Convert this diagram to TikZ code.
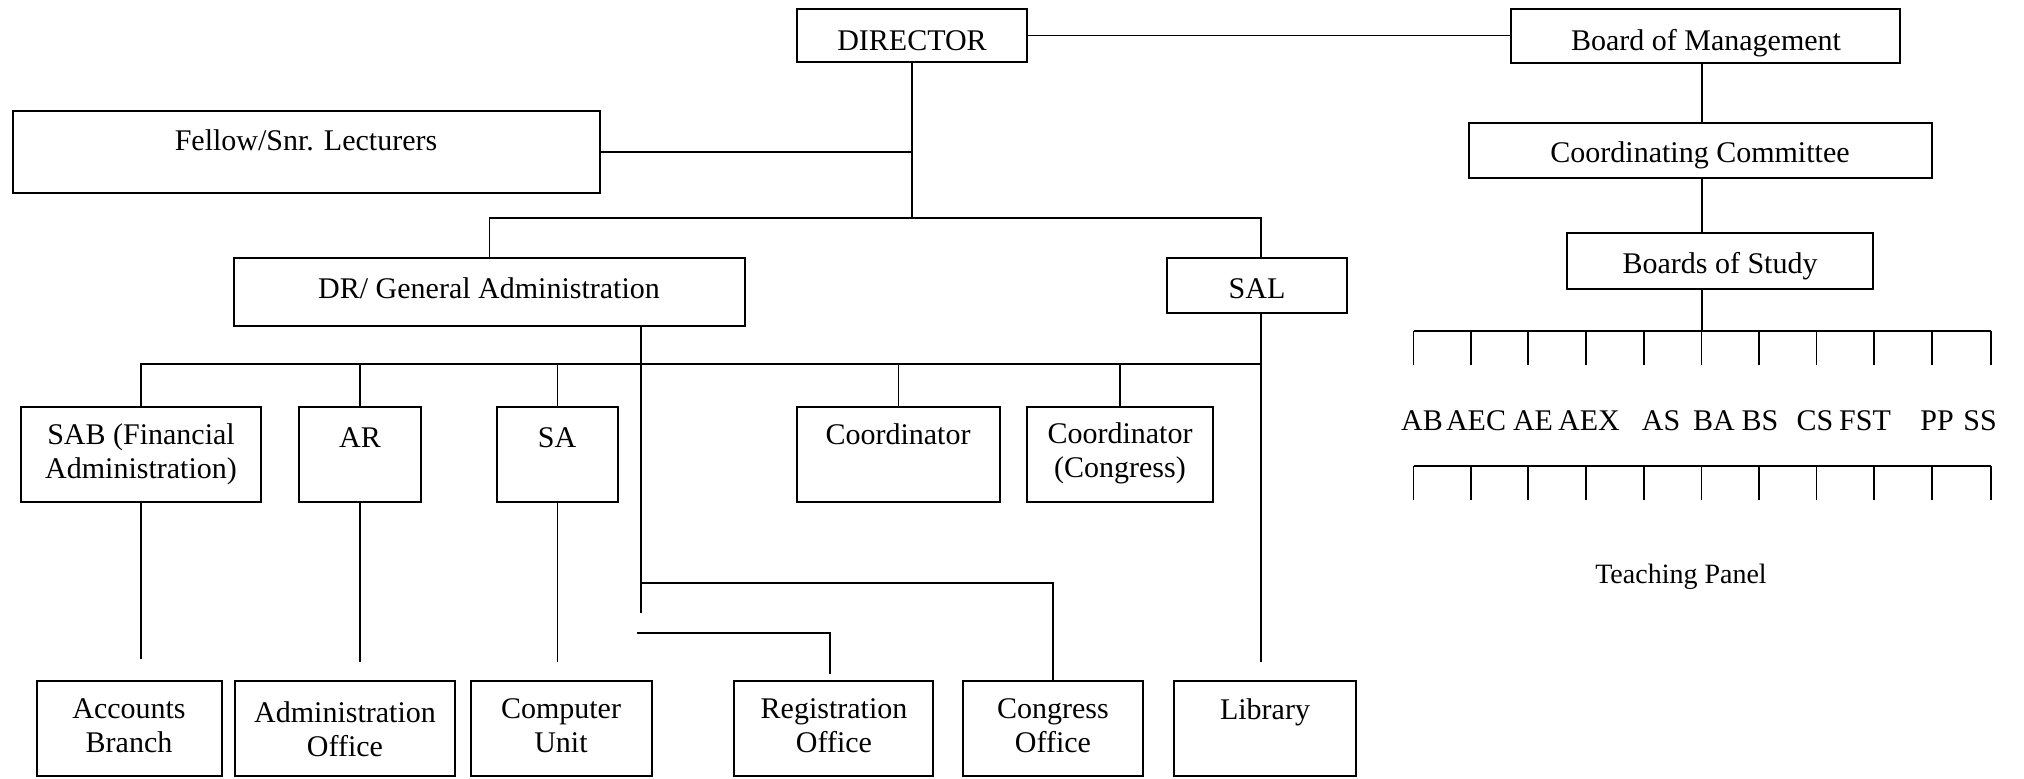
\documentclass[tikz,border=0pt]{standalone}
\usepackage{fontspec}
\setmainfont{Liberation Serif}
\newcommand\bx[5]{\node[box, minimum width={(#4-#2)*0.5pt}, minimum height={(#5-#3)*0.5pt}] (#1) at ({(#2+#4)/2},{(#3+#5)/2}) {};}
\begin{document}
\begin{tikzpicture}[x=0.5pt,y=-0.5pt,
  box/.style={draw, line width=1pt, inner sep=0pt},
  ln/.style={line width=0.75pt},
  bar/.style={line width=1pt},
  txt/.style={font=\fontsize{15}{17}\selectfont, align=center, anchor=base, inner sep=0pt},
  sml/.style={font=\fontsize{14}{16}\selectfont, anchor=base, inner sep=0pt},
]
\useasboundingbox (0,0) rectangle (2024,778);

% boxes
\bx{dir}{797}{9}{1027}{62}
\bx{bom}{1511}{9}{1900}{63}
\bx{fel}{13}{111}{600}{193}
\bx{cc}{1469}{123}{1932}{178}
\bx{bos}{1567}{233}{1873}{289}
\bx{dr}{234}{258}{745}{326}
\bx{sal}{1167}{258}{1347}{313}
\bx{sab}{21}{407}{261}{502}
\bx{ar}{299}{407}{421}{502}
\bx{sa}{497}{407}{618}{502}
\bx{crd}{797}{407}{1000}{502}
\bx{crc}{1027}{407}{1213}{502}
\bx{acc}{37}{681}{222}{776}
\bx{adm}{235}{681}{455}{776}
\bx{cu}{471}{681}{652}{776}
\bx{reg}{734}{681}{933}{776}
\bx{con}{963}{681}{1143}{776}
\bx{lib}{1174}{681}{1356}{776}

% texts (anchor=base of a two-line node is the baseline of its last line)
\node[txt] (tdir) at (912,50) {DIRECTOR};
\node[txt] (tbom) at (1706,50) {Board of Management};
\node[txt] (tfel) at (306,150) {Fellow/Snr. Lecturers};
\node[txt] (tcc) at (1700,162) {Coordinating Committee};
\node[txt] (tbos) at (1720,273) {Boards of Study};
\node[txt] (tdr) at (489,298) {DR/ General Administration};
\node[txt] (tsal) at (1257,298) {SAL};
\node[txt] (tsab) at (141,478) {SAB (Financial\\Administration)};
\node[txt] (tar) at (360,447) {AR};
\node[txt] (tsa) at (557,447) {SA};
\node[txt] (tcrd) at (898,444) {Coordinator};
\node[txt] (tcrc) at (1120,477) {Coordinator\\(Congress)};
\node[txt] (tacc) at (129,752) {Accounts\\Branch};
\node[txt] (tadm) at (345,756) {Administration\\Office};
\node[txt] (tcu) at (561,752) {Computer\\Unit};
\node[txt] (treg) at (834,752) {Registration\\Office};
\node[txt] (tcon) at (1053,752) {Congress\\Office};
\node[txt] (tlib) at (1265,719) {Library};
\node[sml] (tpan) at (1681,583) {Teaching Panel};

% main connectors
\draw[ln] (dir.east) -- (dir.east -| bom.west);
\coordinate (jd) at (912,218);
\draw[ln] (dir.south) -- (jd);
\draw[ln] (fel.east) -- (fel.east -| dir.south);
\coordinate (jsal) at (1261,218);
\draw[ln] (dr.north) |- (jsal) -- (jsal |- sal.north);
\coordinate (lsal) at (1261,662);
\draw[ln] (lsal |- sal.south) -- (lsal);
\coordinate (b364) at (1261,364);
\draw[bar] (sab.north) |- (b364);
\draw[ln] (ar.north) -- (ar.north |- b364);
\draw[ln] (sa.north) -- (sa.north |- b364);
\draw[ln] (crd.north) -- (crd.north |- b364);
\draw[ln] (crc.north) -- (crc.north |- b364);
\coordinate (esab) at (141,659);
\coordinate (ear) at (360,662);
\coordinate (esa) at (557.5,662);
\draw[ln] (sab.south) -- (esab);
\draw[ln] (ar.south) -- (ear);
\draw[ln] (sa.south) -- (esa);
\coordinate (edr) at (641,613);
\draw[ln] (edr |- dr.south) -- (edr);
\coordinate (jc) at (641,583);
\draw[bar] (jc) -| (con.north);
\coordinate (rs) at (637,633);
\coordinate (re) at (830,674);
\draw[bar] (rs) -| (re);

% teaching panel
\coordinate (tp) at (1702,331);
\draw[ln] (tp |- bom.south) -- (tp |- cc.north);
\draw[ln] (tp |- cc.south) -- (tp |- bos.north);
\draw[ln] (tp |- bos.south) -- (tp);
\draw[bar] (1413.5,331) -- (1991,331);
\draw[bar] (1413.5,466) -- (1991,466);
\foreach \x in {1413.5,1471,1528,1586,1644,1701.5,1759,1816.5,1874,1932,1991} {
  \draw[ln] (\x,331) -- (\x,365);
  \draw[ln] (\x,466) -- (\x,500);
}
\foreach \x/\t in {1422/AB,1476/AEC,1533/AE,1589/AEX,1661/AS,1714/BA,1760/BS,1815/CS,1865/FST,1937/PP,1980/SS} {
  \node[txt] (l\t) at (\x,430) {\t};
}
\end{tikzpicture}
\end{document}
